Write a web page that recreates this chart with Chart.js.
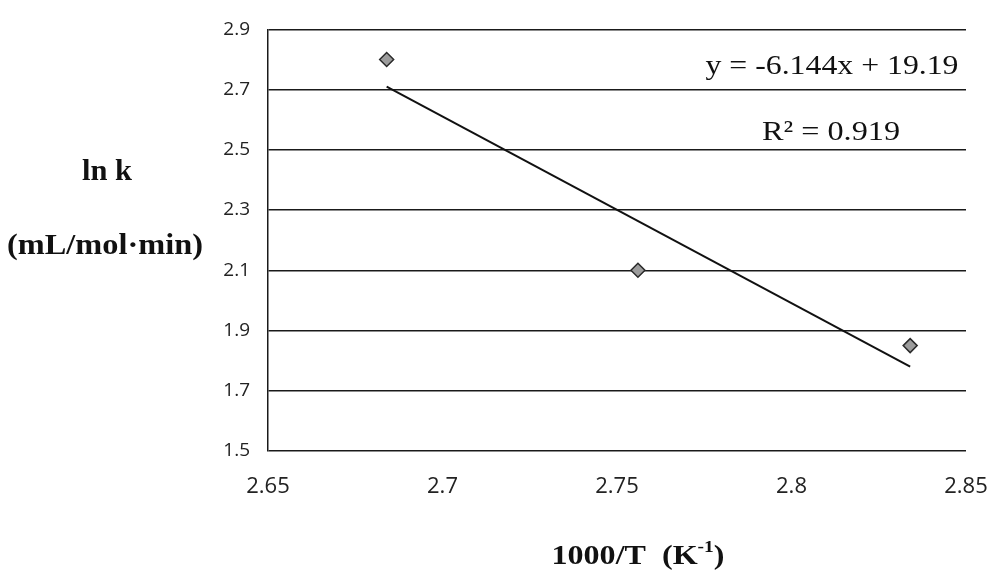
<!DOCTYPE html>
<html>
<head>
<meta charset="utf-8">
<title>ln k vs 1000/T</title>
<script src="https://cdn.jsdelivr.net/npm/chart.js@4.4.1/dist/chart.umd.min.js"></script>
<style>
  html, body { margin: 0; padding: 0; background: #fff; }
  #wrap { width: 990px; height: 579px; position: relative; }
</style>
</head>
<body>
<div id="wrap"><canvas id="arrhenius-chart" width="990" height="579"></canvas></div>
<script>
// axis ranges
const xMin = 2.65, xMax = 2.85, xStep = 0.05;
const yMin = 1.5, yMax = 2.9, yStep = 0.2;

// measured points (1000/T, ln k)
const pointX = [2.684, 2.756, 2.834];
const pointY = [2.80, 2.10, 1.85];

// linear trendline ends, as drawn
const trendX = [2.684, 2.834];
const trendY = [2.71, 1.78];

const eqText = 'y = -6.144x + 19.19';
const r2Text = 'R² = 0.919';

const toXY = (xs, ys) => xs.map((x, i) => ({ x: x, y: ys[i] }));

// draw text squeezed/stretched to a given width (the scan is a bit wide)
const drawParts = (ctx, parts, cx, cy, width) => {
	let total = 0;
	parts.forEach((p) => {
		ctx.font = p.font;
		p.w = ctx.measureText(p.text).width;
		total += p.w;
	});
	const sx = width / total;
	ctx.save();
	ctx.translate(cx - width / 2, cy);
	ctx.scale(sx, 1);
	ctx.textAlign = 'left';
	ctx.textBaseline = 'middle';
	let x = 0;
	parts.forEach((p) => {
		ctx.font = p.font;
		ctx.fillText(p.text, x, p.dy || 0);
		x += p.w;
	});
	ctx.restore();
};

const labelsPlugin = {
	id: 'labels',
	afterDraw(chart) {
		const ctx = chart.ctx;
		ctx.fillStyle = '#111';
		const serif = '"Liberation Serif", "Times New Roman", serif';
		// y axis title, horizontal, two lines
		drawParts(ctx, [{ text: 'ln k', font: 'bold 30px ' + serif }], 107, 172, 50);
		drawParts(ctx, [{ text: '(mL/mol·min)', font: 'bold 30px ' + serif }], 105, 246, 196);
		// x axis title with superscript
		drawParts(ctx, [
			{ text: '1000/T  (K', font: 'bold 28px ' + serif },
			{ text: '-1', font: 'bold 17px ' + serif, dy: -9 },
			{ text: ')', font: 'bold 28px ' + serif },
		], 638, 557, 173);
		// trendline equation
		drawParts(ctx, [{ text: eqText, font: '28px ' + serif }], 832, 67, 253);
		drawParts(ctx, [{ text: r2Text, font: '28px ' + serif }], 831, 133, 138);
	},
};

const drawChart = () => {
	const ctx = document.getElementById('arrhenius-chart');

	new Chart(ctx, {
		type: 'scatter',
		data: {
			datasets: [
				{
					label: 'Linear trend',
					data: toXY(trendX, trendY),
					showLine: true,
					borderColor: '#111',
					borderWidth: 2,
					pointRadius: 0,
				},
				{
					label: 'ln k',
					data: toXY(pointX, pointY),
					pointStyle: 'rectRot',
					pointRadius: 7,
					backgroundColor: '#9c9c9c',
					borderColor: '#2a2a2a',
					borderWidth: 1.5,
				},
			],
		},
		options: {
			responsive: false,
			animation: false,
			layout: {
				padding: { top: 29, left: 0, right: 24, bottom: 0 },
			},
			plugins: {
				legend: { display: false },
				tooltip: { enabled: false },
			},
			scales: {
				x: {
					type: 'linear',
					min: xMin,
					max: xMax,
					afterFit: (s) => {
						s.height = 128;
						s.paddingLeft = 0;
						s.paddingRight = 0;
					},
					grid: { display: false },
					border: { display: false },
					ticks: {
						stepSize: xStep,
						padding: 15,
						color: '#222',
						font: { family: '"Open Sans", sans-serif', size: 22 },
						callback: (v) => String(Number(v.toFixed(2))),
					},
				},
				y: {
					min: yMin,
					max: yMax,
					afterFit: (s) => { s.width = 268; },
					grid: { color: '#1a1a1a', lineWidth: 1.5, drawTicks: false },
					border: { display: true, color: '#1a1a1a', width: 1.5 },
					ticks: {
						stepSize: yStep,
						padding: 18,
						color: '#222',
						font: { family: '"Open Sans", sans-serif', size: 19 },
						callback: (v) => v.toFixed(1),
					},
				},
			},
		},
		plugins: [labelsPlugin],
	});
};

drawChart();
</script>
</body>
</html>
